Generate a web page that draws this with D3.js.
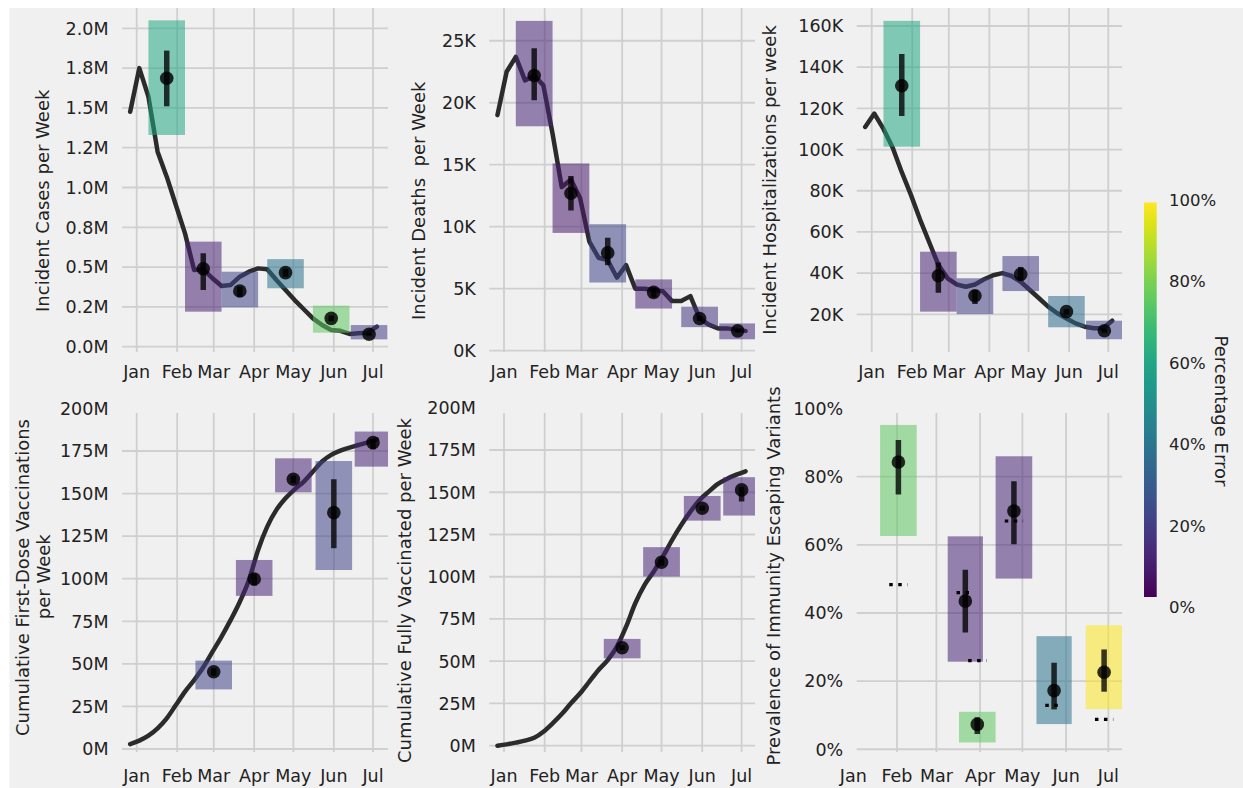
<!DOCTYPE html>
<html><head><meta charset="utf-8">
<script src="https://cdn.jsdelivr.net/npm/d3@7"></script>
<style>
body{margin:0;background:#fff}
svg{display:block}
text{font-family:"DejaVu Sans",sans-serif;fill:#222}
</style>
</head><body>
<svg id="chart" width="1243" height="788"></svg>
<script>
// ---------------- DATA ----------------
const weekDates = ["2020-12-27","2021-01-03","2021-01-10","2021-01-17","2021-01-24","2021-01-31","2021-02-07","2021-02-14","2021-02-21","2021-02-28","2021-03-07","2021-03-14","2021-03-21","2021-03-28","2021-04-04","2021-04-11","2021-04-18","2021-04-25","2021-05-02","2021-05-09","2021-05-16","2021-05-23","2021-05-30","2021-06-06","2021-06-13","2021-06-20","2021-06-27","2021-07-04"];
const monthTicks = ["2021-01-01","2021-02-01","2021-03-01","2021-04-01","2021-05-01","2021-06-01","2021-07-01"];
const monthLabels = ["Jan","Feb","Mar","Apr","May","Jun","Jul"];

// weekly observed series
const casesWeekly = [1.476,1.75,1.57,1.225,1.068,0.89,0.712,0.482,0.486,0.43,0.381,0.388,0.44,0.471,0.492,0.486,0.419,0.356,0.293,0.235,0.178,0.136,0.105,0.10,0.08,0.084,0.088,0.126]; // millions
const deathsWeekly = [19.0,22.5,23.7,21.8,22.2,21.4,17.5,13.2,13.8,12.3,8.8,7.5,7.3,5.9,6.9,5.0,5.0,4.9,4.8,4.0,4.0,4.4,2.6,2.1,1.8,1.8,1.7,1.6]; // thousands
const hospWeekly = [111,117.5,110,101,89,78,66,55,44,37.5,34.5,33.4,34.5,37,39,40,38.6,35.8,31.8,27.8,23.7,20.5,18,15.6,14,13.2,13.2,16.9]; // thousands
const firstDoseWeekly = [2.9,4.9,7.8,12.1,18,25.8,33.7,40.5,48,57,66,75.8,86.5,99.3,116.9,130.6,140.4,147.2,152.5,157,162.9,168.8,172.7,175.2,177,178.5,180,181.9]; // millions
const fullyVaxWeekly = [0,0.8,1.8,3.0,4.7,8.3,13.2,18.7,25.1,31,37.9,44.8,50.7,58.6,70.4,84.3,95.1,103,111.9,121.7,130.6,138.5,145.4,150.4,154.9,158,160.4,162.4]; // millions

// forecasts: [start, end, lower, upper, observed, errLow, errHigh, percentError]
const casesForecasts = [
  ["2021-01-10","2021-02-07",1.33,2.05,1.686,1.51,1.86,0.60],
  ["2021-02-07","2021-03-07",0.22,0.66,0.49,0.356,0.587,0.09],
  ["2021-03-07","2021-04-04",0.247,0.471,0.35,0.314,0.377,0.20],
  ["2021-04-11","2021-05-09",0.367,0.55,0.465,0.44,0.49,0.38],
  ["2021-05-16","2021-06-13",0.088,0.258,0.178,0.16,0.196,0.75],
  ["2021-06-14","2021-07-12",0.046,0.136,0.078,0.068,0.088,0.18]
];
const deathsForecasts = [
  ["2021-01-10","2021-02-07",18.1,26.6,22.2,20.2,24.4,0.10],
  ["2021-02-07","2021-03-07",9.5,15.1,12.7,11.3,14.1,0.07],
  ["2021-03-07","2021-04-04",5.5,10.2,7.9,6.9,9.1,0.20],
  ["2021-04-11","2021-05-09",3.4,5.75,4.7,4.3,5.1,0.10],
  ["2021-05-16","2021-06-13",1.9,3.55,2.6,2.4,2.8,0.15],
  ["2021-06-14","2021-07-12",0.92,2.2,1.6,1.45,1.75,0.12]
];
const hospForecasts = [
  ["2021-01-10","2021-02-07",101.4,162.5,131,116.3,146.4,0.60],
  ["2021-02-07","2021-03-07",21.3,50.4,38.7,30.5,45.2,0.10],
  ["2021-03-07","2021-04-04",20.1,37.5,29,25,31.8,0.18],
  ["2021-04-11","2021-05-09",31.3,48.3,39.4,36.3,43,0.18],
  ["2021-05-16","2021-06-13",13.7,28.9,21.3,19.8,22.6,0.35],
  ["2021-06-14","2021-07-12",7.9,16.9,12,11,13,0.20]
];
const firstDoseForecasts = [
  ["2021-02-15","2021-03-15",35,51.9,45.4,43,47.5,0.20],
  ["2021-03-18","2021-04-15",89.9,111,99.8,96,103,0.10],
  ["2021-04-17","2021-05-15",150.7,170.7,158.4,156,160.5,0.10],
  ["2021-05-18","2021-06-15",105.1,169.1,138.8,117.9,158.4,0.20],
  ["2021-06-17","2021-07-15",165.8,186.4,179.9,176,182,0.10]
];
const fullyVaxForecasts = [
  ["2021-03-18","2021-04-15",51.7,63.2,58,56.5,59.5,0.10],
  ["2021-04-17","2021-05-15",100.1,117.5,108.6,106.5,110.5,0.10],
  ["2021-05-18","2021-06-15",133.2,147.8,140.5,139,142,0.10],
  ["2021-06-17","2021-07-15",136.2,158.9,151.4,144.5,153.3,0.10]
];
// [start, end, lower, upper, observed, errLow, errHigh, percentError, modelValue]
const escapeForecasts = [
  ["2021-01-20","2021-02-15",62.6,95.2,84.3,74.8,90.8,0.75,48.3],
  ["2021-03-09","2021-04-03",25.7,62.5,43.5,34.3,52.7,0.10,46.0],
  ["2021-03-17","2021-04-12",2.0,11.0,7.3,4.5,9.4,0.75,26.0],
  ["2021-04-12","2021-05-08",50.1,86.0,69.9,60.2,78.7,0.10,67.0],
  ["2021-05-11","2021-06-05",7.4,33.2,17.2,11.7,25.4,0.38,12.9],
  ["2021-06-15","2021-07-11",11.8,36.4,22.6,16.9,29.3,1.00,8.8]
];

// tick values and labels
const casesTicks = [0,0.25,0.5,0.75,1.0,1.25,1.5,1.75,2.0];
const casesTickLabels = ["0.0M","0.2M","0.5M","0.8M","1.0M","1.2M","1.5M","1.8M","2.0M"];
const deathsTicks = [0,5,10,15,20,25];
const deathsTickLabels = ["0K","5K","10K","15K","20K","25K"];
const hospTicks = [20,40,60,80,100,120,140,160];
const hospTickLabels = ["20K","40K","60K","80K","100K","120K","140K","160K"];
const vaxTicks = [0,25,50,75,100,125,150,175,200];
const vaxTickLabels = ["0M","25M","50M","75M","100M","125M","150M","175M","200M"];
const pctTicks = [0,20,40,60,80,100];
const pctTickLabels = ["0%","20%","40%","60%","80%","100%"];
const colorbarTicks = [0,0.2,0.4,0.6,0.8,1.0];
const colorbarTickLabels = ["0%","20%","40%","60%","80%","100%"];

// ---------------- LAYOUT ----------------
const parse = s => new Date(s + "T00:00:00Z");
const dayOf = d => new Date(Date.UTC(2021,0,1) + d*864e5);

const panels = [
  {line: casesWeekly, fc: casesForecasts, ticks: casesTicks, tl: casesTickLabels, curve: d3.curveLinear,
   titles: [["Incident Cases per Week",42.5,200.8]], px:[122,388], py:[8,352], xd:[-11.26,192.5], yd:[-0.0333,2.1276], xly:378},
  {line: deathsWeekly, fc: deathsForecasts, ticks: deathsTicks, tl: deathsTickLabels, curve: d3.curveLinear,
   titles: [["Incident Deaths  per Week",418.3,200.8]], px:[489.3,755], py:[8,352], xd:[-11.2,191.2], yd:[-0.105,27.64], xly:378},
  {line: hospWeekly, fc: hospForecasts, ticks: hospTicks, tl: hospTickLabels, curve: d3.curveLinear,
   titles: [["Incident Hospitalizations per week",770,180]], px:[856.7,1122], py:[8,352], xd:[-11.48,191.5], yd:[1.7,168.74], xly:378},
  {line: firstDoseWeekly, fc: firstDoseForecasts, ticks: vaxTicks, tl: vaxTickLabels, curve: d3.curveMonotoneX,
   titles: [["Cumulative First-Dose Vaccinations",23,577.5],["per Week",43.3,576.7]], px:[122,388], py:[413,752], xd:[-11.26,192.5], yd:[-1.76,197.3], xly:782},
  {line: fullyVaxWeekly, fc: fullyVaxForecasts, ticks: vaxTicks, tl: vaxTickLabels, curve: d3.curveMonotoneX,
   titles: [["Cumulative Fully Vaccinated per Week",405,590.5]], px:[489.3,755], py:[413,752], xd:[-11.2,191.2], yd:[-3.73,196.9], xly:782},
  {line: null, fc: escapeForecasts, ticks: pctTicks, tl: pctTickLabels, curve: d3.curveLinear,
   titles: [["Prevalence of Immunity Escaping Variants",773.3,576]], px:[856.7,1122], py:[413,752], xd:[2.41,190.7], yd:[-0.8,98.7], xly:782}
];

const svg = d3.select("#chart");
svg.append("rect").attr("x",0).attr("y",0).attr("width",1243).attr("height",788).attr("fill","#ffffff");
svg.append("rect").attr("x",9.5).attr("y",8).attr("width",1243-9.5).attr("height",788-8).attr("fill","#f0f0f0");

const FS_TICK = 17.5, FS_TITLE = 18;
const gridColor = "#cfcfcf";

panels.forEach((p, idx) => {
  const x = d3.scaleUtc().domain([dayOf(p.xd[0]), dayOf(p.xd[1])]).range(p.px);
  const y = d3.scaleLinear().domain(p.yd).range([p.py[1], p.py[0]]);
  const g = svg.append("g");
  const clipId = "clip" + idx;
  svg.append("clipPath").attr("id", clipId).append("rect")
    .attr("x", p.px[0]).attr("y", p.py[0]).attr("width", p.px[1]-p.px[0]).attr("height", p.py[1]-p.py[0]);

  // grid
  const grid = g.append("g");
  p.ticks.forEach(t => {
    const yy = y(t);
    if (yy >= p.py[0] - 0.5 && yy <= p.py[1] + 0.5)
      grid.append("line").attr("x1", p.px[0]).attr("x2", p.px[1]).attr("y1", yy).attr("y2", yy)
        .attr("stroke", gridColor).attr("stroke-width", 1.8);
  });
  monthTicks.forEach(m => {
    const xx = x(parse(m));
    if (xx >= p.px[0] && xx <= p.px[1])
      grid.append("line").attr("x1", xx).attr("x2", xx).attr("y1", p.py[0]).attr("y2", p.py[1])
        .attr("stroke", gridColor).attr("stroke-width", 1.8);
  });

  const plot = g.append("g").attr("clip-path", `url(#${clipId})`);

  // observed line
  if (p.line) {
    const lineGen = d3.line().x((d,i) => x(parse(weekDates[i]))).y(d => y(d)).curve(p.curve);
    plot.append("path").datum(p.line).attr("d", lineGen)
      .attr("fill","none").attr("stroke","#2b2b2b").attr("stroke-width",4.5)
      .attr("stroke-linejoin","round").attr("stroke-linecap","round");
  }

  // forecast boxes
  plot.selectAll("rect.box").data(p.fc).join("rect").attr("class","box")
    .attr("x", d => x(parse(d[0])))
    .attr("width", d => x(parse(d[1])) - x(parse(d[0])))
    .attr("y", d => y(d[3]))
    .attr("height", d => y(d[2]) - y(d[3]))
    .attr("fill", d => d3.interpolateViridis(d[7]))
    .attr("fill-opacity", 0.55);

  const mid = d => new Date((parse(d[0]).getTime() + parse(d[1]).getTime())/2);

  // model reference (dotted) for the variants panel
  p.fc.forEach(d => {
    if (d.length > 8) {
      const s = parse(d[0]).getTime(), e = parse(d[1]).getTime(), q = (e - s)/4;
      plot.append("line")
        .attr("x1", x(new Date(s+q))).attr("x2", x(new Date(e-q)))
        .attr("y1", y(d[8])).attr("y2", y(d[8]))
        .attr("stroke","#000").attr("stroke-width",3.2).attr("stroke-dasharray","3.5,5.5");
    }
  });

  // error bars
  plot.selectAll("line.err").data(p.fc).join("line").attr("class","err")
    .attr("x1", d => x(mid(d))).attr("x2", d => x(mid(d)))
    .attr("y1", d => y(d[5])).attr("y2", d => y(d[6]))
    .attr("stroke","#000").attr("stroke-width",5.5).attr("stroke-opacity",0.78);
  // observed points
  plot.selectAll("circle.pt").data(p.fc).join("circle").attr("class","pt")
    .attr("cx", d => x(mid(d))).attr("cy", d => y(d[4])).attr("r", 6.8)
    .attr("fill","#000").attr("fill-opacity",0.82);

  // y tick labels
  p.ticks.forEach((t,i) => {
    g.append("text").attr("x", p.px[0] - 13.5).attr("y", y(t)).attr("dy","0.36em")
      .attr("text-anchor","end").attr("font-size",FS_TICK).text(p.tl[i]);
  });
  // x tick labels
  monthTicks.forEach((m,i) => {
    g.append("text").attr("x", x(parse(m))).attr("y", p.xly)
      .attr("text-anchor","middle").attr("font-size",FS_TICK).text(monthLabels[i]);
  });
  // axis titles
  p.titles.forEach(([txt, tx, ty]) => {
    g.append("text").attr("transform", `translate(${tx},${ty}) rotate(-90)`)
      .attr("text-anchor","middle").attr("dy","0.36em").attr("font-size",FS_TITLE)
      .style("white-space","pre").text(txt);
  });
});

// ---------------- COLORBAR ----------------
const cb = {x:1144, w:12.7, top:202.5, bottom:597};
const defs = svg.append("defs");
const grad = defs.append("linearGradient").attr("id","viridisGrad")
  .attr("x1","0").attr("y1","1").attr("x2","0").attr("y2","0");
d3.range(0, 1.0001, 0.05).forEach(t => {
  grad.append("stop").attr("offset", t).attr("stop-color", d3.interpolateViridis(t));
});
svg.append("rect").attr("x", cb.x).attr("y", cb.top).attr("width", cb.w).attr("height", cb.bottom - cb.top)
  .attr("fill","url(#viridisGrad)");
const cbScale = d3.scaleLinear().domain([0,1]).range([607.5, 200]);
colorbarTicks.forEach((t,i) => {
  svg.append("text").attr("x", 1169).attr("y", cbScale(t)).attr("dy","0.36em")
    .attr("font-size",16.5).text(colorbarTickLabels[i]);
});
svg.append("text").attr("transform","translate(1221.7,411) rotate(90)")
  .attr("text-anchor","middle").attr("dy","0.36em").attr("font-size",18).text("Percentage Error");
</script>
</body></html>
